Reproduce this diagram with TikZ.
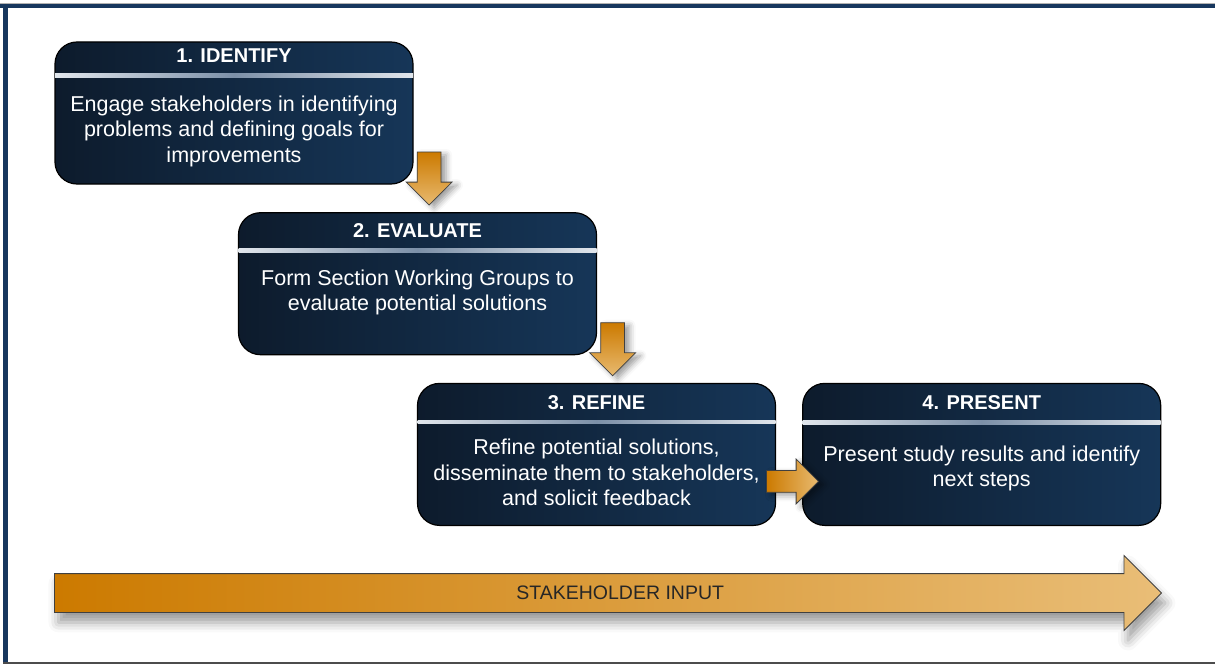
\documentclass[tikz,border=0pt]{standalone}
\usepackage{fontspec}
\setmainfont{Liberation Sans}
\usetikzlibrary{positioning,calc,shapes.arrows,shadows.blur}

\definecolor{framenavy}{HTML}{17375E}
\definecolor{boxleft}{HTML}{0D1B2C}
\definecolor{boxright}{HTML}{163658}
\definecolor{sepend}{HTML}{E1E6EC}
\definecolor{sepmid}{HTML}{7C90A8}
\definecolor{orangedark}{HTML}{CC7A00}
\definecolor{orangelight}{HTML}{E8BA70}

\tikzstyle{stepbox} = [draw=black, line width=1.2pt, rounded corners=22pt, minimum width=358pt, minimum height=142pt, left color=boxleft, right color=boxright]
\tikzstyle{steptitle} = [text=white, font=\fontsize{20}{24}\selectfont\bfseries, inner sep=0pt]
\tikzstyle{stepbody} = [text=white, font=\fontsize{21.5}{25.5}\selectfont, align=center, inner sep=0pt]
\tikzset{flow/.style={single arrow, draw=black!75, line width=0.8pt, anchor=tip},
    stepflow/.style={flow, inner sep=11.5pt, single arrow head extend=11pt, minimum height=53pt,
        blur shadow={shadow xshift=5pt, shadow yshift=-3pt, shadow blur radius=6pt}},
    inputflow/.style={flow, inner xsep=0pt, inner ysep=19pt, single arrow head extend=18pt, minimum height=1107pt,
        left color=orangedark, right color=orangelight!95!white,
        blur shadow={shadow xshift=4pt, shadow yshift=-10pt, shadow blur radius=10pt}}
}

\begin{document}
\begin{tikzpicture}[x=1pt, y=-1pt, node distance=27.5pt]
        \useasboundingbox (0,0) rectangle (1215,666);

        % frame
        \draw [gray!60, line width=0.8pt] (0,3.2) -- (1215,3.2);
        \fill [framenavy] (0,4) rectangle (1215,8.5);
        \fill [framenavy] (3,4) rectangle (8,663);
        \draw [black!70, line width=1.5pt] (3,663) -- (1215,663);

        \node [stepbox] (identify) at (234,113) {};
        \node [stepbox, below=of identify, xshift=183.5pt] (evaluate) {};
        \node [stepbox, below=of evaluate, xshift=179pt] (refine) {};
        \node [stepbox, right=26pt of refine] (present) {};

        \foreach \b/\h in {identify/34,evaluate/38.5,refine/39,present/39.5} {
            \coordinate (\b-sep) at ($(\b.north)+(0,\h)$);
            \shade [left color=sepend, right color=sepend, middle color=sepmid]
                ($(\b.west |- \b-sep)+(0.6,-1.8)$) rectangle ($(\b.east |- \b-sep)+(-0.6,1.8)$);
        }

        \node [steptitle] (t1) at ($(identify-sep)+(0,-19.5)$) {1. IDENTIFY};
        \node [steptitle] (t2) at ($(evaluate-sep)+(0,-19.5)$) {2. EVALUATE};
        \node [steptitle] (t3) at ($(refine-sep)+(0,-19.5)$) {3. REFINE};
        \node [steptitle] (t4) at ($(present-sep)+(0,-19.5)$) {4. PRESENT};

        \node [stepbody, anchor=north] (d1) at ($(identify-sep)+(0,20)$) {Engage stakeholders in identifying\\problems and defining goals for\\improvements};
        \node [stepbody, anchor=north] (d2) at ($(evaluate-sep)+(0,19)$) {Form Section Working Groups to\\evaluate potential solutions};
        \node [stepbody, anchor=north] (d3) at ($(refine-sep)+(0,17)$) {Refine potential solutions,\\disseminate them to stakeholders,\\and solicit feedback};
        \node [stepbody, anchor=north] (d4) at ($(present-sep)+(0,23)$) {Present study results and identify\\next steps};

        \node [stepflow, shape border rotate=270, top color=orangedark, bottom color=orangelight] (a1) at ($(identify.south east)+(15.5,21)$) {};
        \node [stepflow, shape border rotate=270, top color=orangedark, bottom color=orangelight] (a2) at ($(evaluate.south east)+(15.5,21)$) {};
        \node [stepflow, inner sep=10.5pt, single arrow head extend=11.5pt, minimum height=52pt,
            left color=orangedark, right color=orangelight] (a3) at ($(present.west)+(17,27)$) {};

        \node [inputflow] (input) at (1162,593) {};
        \node [text=black!85, font=\fontsize{19.5}{22}\selectfont, inner sep=0pt] (inlabel)
            at ($(input.tail)!0.511!(input.tip)$) {STAKEHOLDER INPUT};
    \end{tikzpicture}
\end{document}
